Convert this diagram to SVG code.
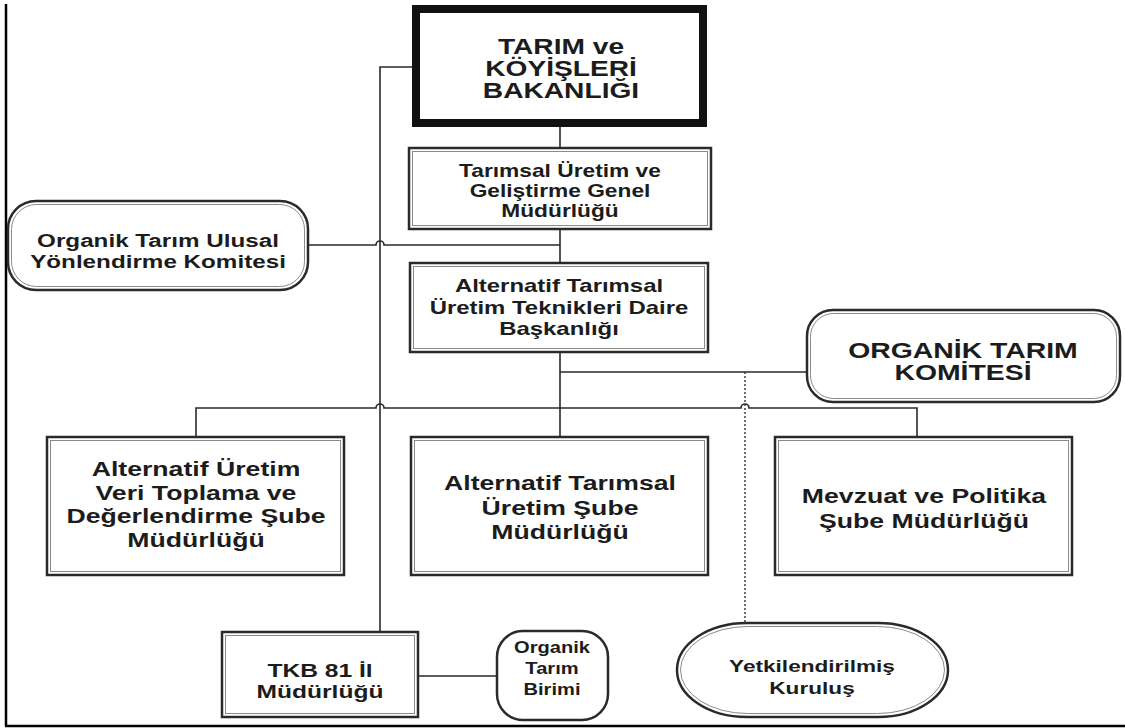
<svg xmlns="http://www.w3.org/2000/svg" width="1125" height="728" viewBox="0 0 1125 728">
<style>
.bg{fill:#fff}
.b{fill:#fff;stroke:#2a2a2a;stroke-width:2.5}
.i{fill:none;stroke:#8a8a8a;stroke-width:1}
.c{fill:none;stroke:#2a2a2a;stroke-width:1.6}
.d{fill:none;stroke:#333;stroke-width:1.4;stroke-dasharray:2 2}
.t{font-family:"Liberation Sans",Arial,sans-serif;font-weight:bold;fill:#1c1c1c;text-anchor:middle}
</style>
<rect class="bg" x="0" y="0" width="1125" height="728"/>
<g id="frame">
<line x1="6" y1="4" x2="6" y2="726" stroke="#000" stroke-width="2.5"/>
<line x1="5" y1="726" x2="1125" y2="726" stroke="#000" stroke-width="2.5"/>
</g>
<g id="connectors">
<path class="c" d="M412 67 H380 V632"/>
<path class="c" d="M560 127 V148"/>
<path class="c" d="M560 229 V263"/>
<path class="c" d="M308 245 H376 A4 4 0 0 1 384 245 H560"/>
<path class="c" d="M560 352 V437"/>
<path class="c" d="M560 372 H807"/>
<path class="c" d="M196 437 V408 H376 A4 4 0 0 1 384 408 H741 A4 4 0 0 1 749 408 H917 V437"/>
<path class="d" d="M745 372 V623"/>
<path class="c" d="M419 676 H497"/>
</g>
<g id="n-bakanlik">
<rect x="416" y="9" width="287" height="114" fill="#fff" stroke="#111" stroke-width="8"/>
<g class="t" font-size="22" transform="translate(561 0) scale(1.28 1)">
<text x="0" y="54">TARIM ve</text>
<text x="0" y="76">KÖYİŞLERİ</text>
<text x="0" y="98">BAKANLIĞI</text>
</g>
</g>
<g id="n-genel">
<rect class="b" x="409" y="148" width="302" height="81"/>
<rect class="i" x="412.5" y="151.5" width="295" height="74"/>
<g class="t" font-size="17.5" transform="translate(560 0) scale(1.3 1)">
<text x="0" y="177">Tarımsal Üretim ve</text>
<text x="0" y="197">Geliştirme Genel</text>
<text x="0" y="217">Müdürlüğü</text>
</g>
</g>
<g id="n-ulusal">
<rect class="b" x="8" y="201" width="300" height="89" rx="28" ry="28"/>
<rect class="i" x="11.5" y="204.5" width="293" height="82" rx="25" ry="25"/>
<g class="t" font-size="18.5" transform="translate(158 0) scale(1.31 1)">
<text x="0" y="247">Organik Tarım Ulusal</text>
<text x="0" y="268">Yönlendirme Komitesi</text>
</g>
</g>
<g id="n-daire">
<rect class="b" x="410" y="263" width="298" height="89"/>
<rect class="i" x="413.5" y="266.5" width="291" height="82"/>
<g class="t" font-size="18" transform="translate(559 0) scale(1.33 1)">
<text x="0" y="292">Alternatif Tarımsal</text>
<text x="0" y="314">Üretim Teknikleri Daire</text>
<text x="0" y="335">Başkanlığı</text>
</g>
</g>
<g id="n-komite">
<rect class="b" x="807" y="310" width="313" height="92" rx="26" ry="26"/>
<rect class="i" x="810.5" y="313.5" width="306" height="85" rx="23" ry="23"/>
<g class="t" font-size="22" transform="translate(963 0) scale(1.29 1)">
<text x="0" y="358">ORGANİK TARIM</text>
<text x="0" y="380">KOMİTESİ</text>
</g>
</g>
<g id="n-veri">
<rect class="b" x="47" y="437" width="297" height="138"/>
<rect class="i" x="50.5" y="440.5" width="290" height="131"/>
<g class="t" font-size="20.5" transform="translate(196 0) scale(1.3 1)">
<text x="0" y="476">Alternatif Üretim</text>
<text x="0" y="500">Veri Toplama ve</text>
<text x="0" y="523">Değerlendirme Şube</text>
<text x="0" y="547">Müdürlüğü</text>
</g>
</g>
<g id="n-uretim">
<rect class="b" x="411" y="437" width="297" height="138"/>
<rect class="i" x="414.5" y="440.5" width="290" height="131"/>
<g class="t" font-size="20.5" transform="translate(560 0) scale(1.3 1)">
<text x="0" y="490">Alternatif Tarımsal</text>
<text x="0" y="515">Üretim Şube</text>
<text x="0" y="539">Müdürlüğü</text>
</g>
</g>
<g id="n-mevzuat">
<rect class="b" x="775" y="437" width="297" height="138"/>
<rect class="i" x="778.5" y="440.5" width="290" height="131"/>
<g class="t" font-size="20.5" transform="translate(924 0) scale(1.3 1)">
<text x="0" y="503">Mevzuat ve Politika</text>
<text x="0" y="528">Şube Müdürlüğü</text>
</g>
</g>
<g id="n-tkb">
<rect class="b" x="222" y="632" width="196" height="85"/>
<rect class="i" x="225.5" y="635.5" width="189" height="78"/>
<g class="t" font-size="18.5" transform="translate(320 0) scale(1.33 1)">
<text x="0" y="677">TKB 81 İl</text>
<text x="0" y="698">Müdürlüğü</text>
</g>
</g>
<g id="n-birim">
<rect class="b" x="497" y="631" width="111" height="89" rx="26" ry="26"/>
<g class="t" font-size="16.5" transform="translate(552 0) scale(1.22 1)">
<text x="0" y="653">Organik</text>
<text x="0" y="674">Tarım</text>
<text x="0" y="695">Birimi</text>
</g>
</g>
<g id="n-kurulus">
<rect class="b" x="677" y="623" width="271" height="94" rx="70" ry="47"/>
<rect class="i" x="680.5" y="626.5" width="264" height="87" rx="67" ry="43.5"/>
<g class="t" font-size="17" transform="translate(812 0) scale(1.33 1)">
<text x="0" y="672">Yetkilendirilmiş</text>
<text x="0" y="694">Kuruluş</text>
</g>
</g>
</svg>
